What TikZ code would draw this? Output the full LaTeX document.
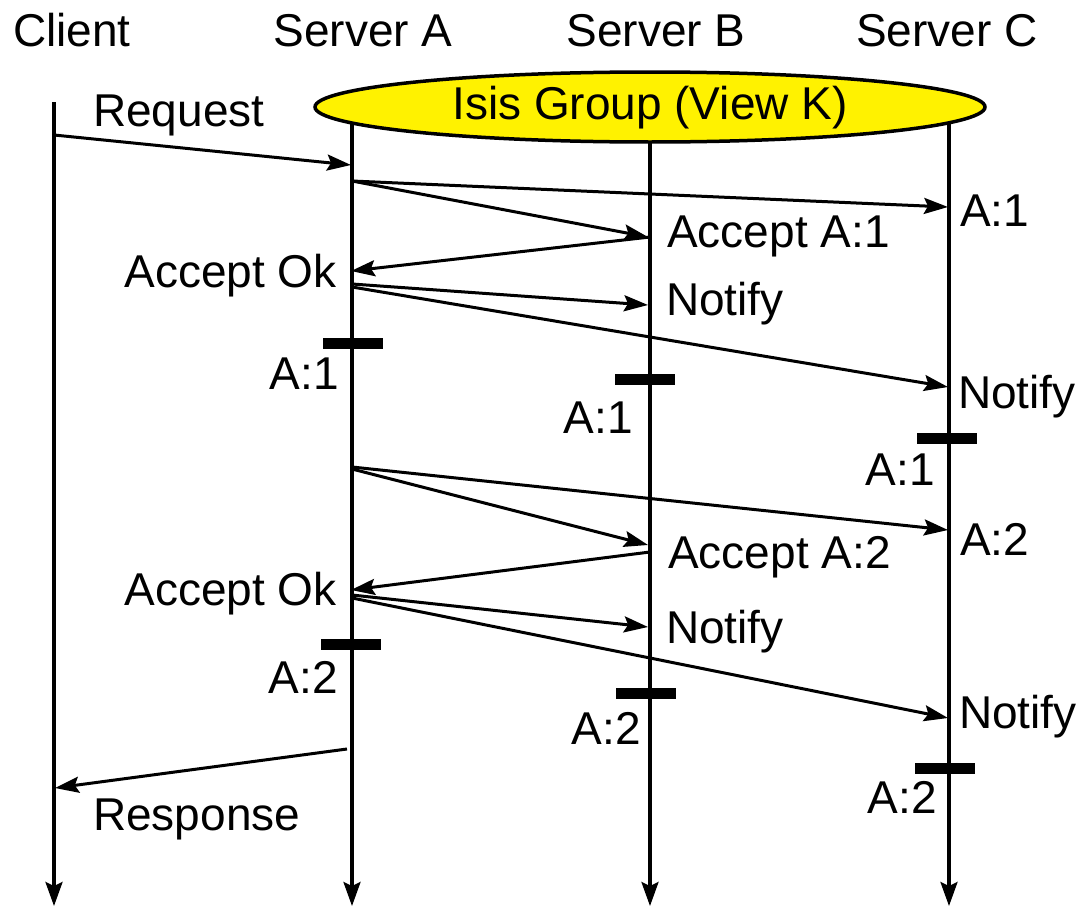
\documentclass[tikz,border=0pt]{standalone}
\usepackage{fontspec}
\setmainfont{Liberation Sans}
\usetikzlibrary{arrows.meta,shapes.geometric}
\begin{document}
\begin{tikzpicture}[x=1pt,y=-1pt,
  lbl/.style={inner sep=0pt, font=\fontsize{46}{52}\selectfont},
  life/.style={line width=3.2pt, -{Stealth[length=24pt,width=17pt,inset=4pt]}},
  msg/.style={line width=3pt, -{Stealth[length=24pt,width=16pt,inset=4pt]}},
  syncbar/.style={fill=black, inner sep=0pt, minimum width=60pt, minimum height=11pt},
]
\useasboundingbox (0,0) rectangle (1080,910);

% lifelines
\coordinate (cT) at (54,102);  \coordinate (cB) at (54,906);
\coordinate (aT) at (352,107); \coordinate (aB) at (352,906);
\coordinate (bT) at (650,107); \coordinate (bB) at (650,906);
\coordinate (sT) at (949,107); \coordinate (sB) at (949,906);
\draw[life] (cT) -- (cB);
\draw[life] (aT) -- (aB);
\draw[life] (bT) -- (bB);
\draw[life] (sT) -- (sB);

% group of servers
\node[lbl, draw, line width=3.5pt, fill=yellow, ellipse, minimum width=670pt,
      minimum height=70pt, text height=34pt, text depth=10pt] (grp) at (650,107)
      {Isis Group (View K)};

% headers
\node[lbl, anchor=base] (hClient) at (72,46) {Client};
\node[lbl, anchor=base] (hA) at (363,46) {Server A};
\node[lbl, anchor=base] (hB) at (656,46) {Server B};
\node[lbl, anchor=base] (hC) at (947,46) {Server C};

% message end points
\coordinate (req0) at (54,135);  \coordinate (req1) at (351,165);
\coordinate (p1a) at (352,181);  \coordinate (p1c) at (948,207);
\coordinate (p1b) at (648,237);
\coordinate (q1b) at (650,237);  \coordinate (q1a) at (351,271);
\coordinate (n1a) at (352,284);  \coordinate (n1b) at (648,305);
\coordinate (n1s) at (352,287);  \coordinate (n1c) at (948,387);
\coordinate (p2a) at (352,467);  \coordinate (p2c) at (948,530);
\coordinate (p2s) at (352,469);  \coordinate (p2b) at (648,545);
\coordinate (q2b) at (650,552);  \coordinate (q2a) at (351,590);
\coordinate (n2a) at (352,595);  \coordinate (n2b) at (648,627);
\coordinate (n2s) at (352,598);  \coordinate (n2c) at (948,718);
\coordinate (rsp0) at (347,749); \coordinate (rsp1) at (55,788);

% messages
\draw[msg] (req0) -- (req1);
\draw[msg] (p1a) -- (p1c);
\draw[msg] (p1a) -- (p1b);
\draw[msg] (q1b) -- (q1a);
\draw[msg] (n1a) -- (n1b);
\draw[msg] (n1s) -- (n1c);
\draw[msg] (p2a) -- (p2c);
\draw[msg] (p2s) -- (p2b);
\draw[msg] (q2b) -- (q2a);
\draw[msg] (n2a) -- (n2b);
\draw[msg] (n2s) -- (n2c);
\draw[msg] (rsp0) -- (rsp1);

% commit bars
\node[syncbar] (barA1) at (353,343) {};
\node[syncbar] (barB1) at (645,379) {};
\node[syncbar] (barC1) at (947,438) {};
\node[syncbar] (barA2) at (351,644) {};
\node[syncbar] (barB2) at (646,693) {};
\node[syncbar] (barC2) at (945,768) {};

% labels
\node[lbl, anchor=base west] (tReq) at (93,126) {Request};
\node[lbl, anchor=base west] (tAcc1) at (667,247) {Accept A:1};
\node[lbl, anchor=base west] (tC1) at (960,226) {A:1};
\node[lbl, anchor=base east] (tOk1) at (337,287) {Accept Ok};
\node[lbl, anchor=base west] (tNb1) at (666,315) {Notify};
\node[lbl, anchor=base west] (tNc1) at (958,408) {Notify};
\node[lbl, anchor=base east] (tA1) at (339,389) {A:1};
\node[lbl, anchor=base east] (tB1) at (633,433) {A:1};
\node[lbl, anchor=base east] (tS1) at (935,485) {A:1};
\node[lbl, anchor=base west] (tC2) at (960,555) {A:2};
\node[lbl, anchor=base west] (tAcc2) at (668,568) {Accept A:2};
\node[lbl, anchor=base east] (tOk2) at (337,605) {Accept Ok};
\node[lbl, anchor=base west] (tNb2) at (666,643) {Notify};
\node[lbl, anchor=base west] (tNc2) at (959,728) {Notify};
\node[lbl, anchor=base east] (tA2) at (338,693) {A:2};
\node[lbl, anchor=base east] (tB2) at (641,744) {A:2};
\node[lbl, anchor=base east] (tS2) at (937,813) {A:2};
\node[lbl, anchor=base west] (tRsp) at (93,830) {Response};
\end{tikzpicture}
\end{document}
